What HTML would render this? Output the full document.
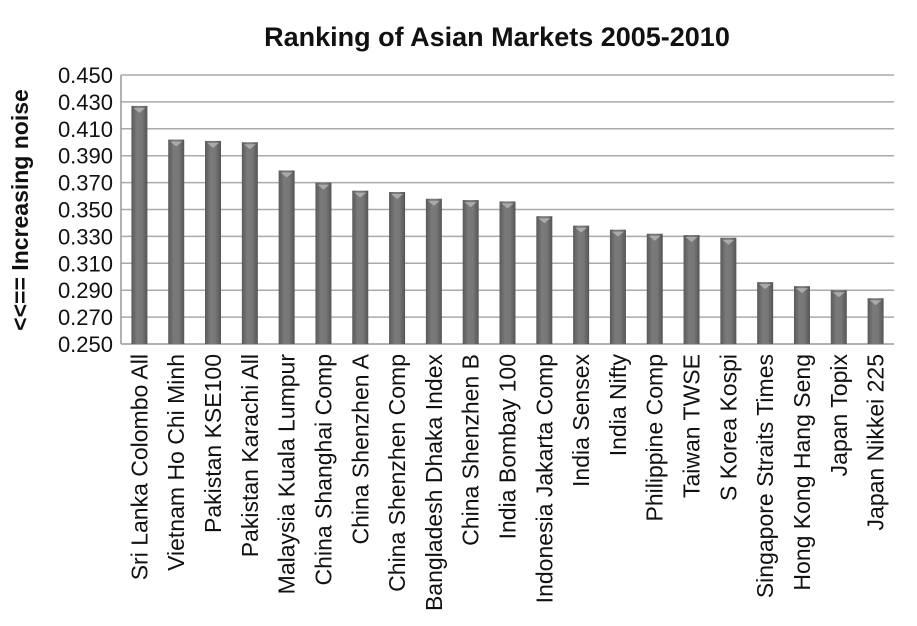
<!DOCTYPE html>
<html><head><meta charset="utf-8"><style>
body{margin:0;background:#fff;}
svg{display:block;font-family:"Liberation Sans",sans-serif;}
</style></head><body>
<svg id="chart" width="917" height="626" viewBox="0 0 917 626">
<defs>
<linearGradient id="bg" x1="0" x2="1" y1="0" y2="0">
<stop offset="0" stop-color="#5a5a5a"/><stop offset="0.35" stop-color="#7a7a7a"/><stop offset="0.65" stop-color="#777"/><stop offset="1" stop-color="#555"/>
</linearGradient>
</defs>
<text x="497" y="46" text-anchor="middle" font-size="27" font-weight="bold" fill="#111">Ranking of Asian Markets 2005-2010</text>
<text transform="translate(28,210) rotate(-90)" text-anchor="middle" font-size="23" font-weight="bold" fill="#111">&lt;&lt;== Increasing noise</text>
<g id="grid"></g><g id="bars"></g><g id="labels"></g>
</svg>
<script>
const categories=["Sri Lanka Colombo All","Vietnam Ho Chi Minh","Pakistan KSE100","Pakistan Karachi All","Malaysia Kuala Lumpur","China Shanghai Comp","China Shenzhen A","China Shenzhen Comp","Bangladesh Dhaka Index","China Shenzhen B","India Bombay 100","Indonesia Jakarta Comp","India Sensex","India Nifty","Philippine Comp","Taiwan TWSE","S Korea Kospi","Singapore Straits Times","Hong Kong Hang Seng","Japan Topix","Japan Nikkei 225"];
const values=[0.427,0.402,0.401,0.400,0.379,0.370,0.364,0.363,0.358,0.357,0.356,0.345,0.338,0.335,0.332,0.331,0.329,0.296,0.293,0.290,0.284];
const ticks=[0.250,0.270,0.290,0.310,0.330,0.350,0.370,0.390,0.410,0.430,0.450];
const NS="http://www.w3.org/2000/svg";
const X0=121,X1=894,Y0=344,Y1=75,ymin=0.25,ymax=0.45;
const y=v=>Y0-(v-ymin)/(ymax-ymin)*(Y0-Y1);
const slot=(X1-X0)/categories.length;
const x=i=>X0+slot*(i+0.5);
function mk(t,a,p){const e=document.createElementNS(NS,t);for(const k in a)e.setAttribute(k,a[k]);p.appendChild(e);return e;}
const grid=document.getElementById('grid'),bars=document.getElementById('bars'),labels=document.getElementById('labels');
ticks.forEach(t=>{
 const l=mk('line',{x1:X0,x2:X1,y1:y(t),y2:y(t),stroke:t===ymin?'#999':'#aaa','stroke-width':1.5},grid);
 
 
 const tx=mk('text',{x:113,y:y(t)+8,'text-anchor':'end','font-size':22,fill:'#111'},grid);
 tx.textContent=t.toFixed(3);
 
 
});
const ax=mk('line',{x1:X0,x2:X0,y1:Y1,y2:Y0,stroke:'#999','stroke-width':1.5},grid);


const bw=16;
values.forEach((v,i)=>{
 const cx=x(i),top=y(v);
 const r=mk('rect',{x:cx-bw/2,y:top,width:bw,height:Y0-top,fill:'url(#bg)'},bars);
 
 
 const tri=mk('polygon',{points:`${cx-6},${top+2} ${cx+6},${top+2} ${cx},${top+7}`,fill:'#aaa'},bars);
 
 
 const lb=mk('text',{transform:`translate(${cx+8},354) rotate(-90)`,'text-anchor':'end','font-size':23,fill:'#111'},labels);
 lb.textContent=categories[i];
 
 
});
</script>
</body></html>
